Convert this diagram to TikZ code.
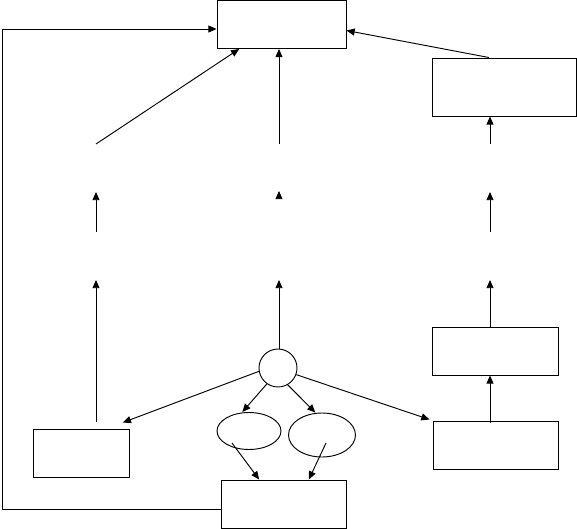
\documentclass[tikz,border=0pt]{standalone}
\usetikzlibrary{arrows.meta,shapes.geometric}
\begin{document}
\begin{tikzpicture}[x=0.03cm, y=-0.03cm, line width=0.8pt, >={Triangle[length=7pt,width=6pt]},
        box/.style={draw, rectangle, inner sep=0pt},
        blob/.style={draw, ellipse, inner sep=0pt}]
    \useasboundingbox (0,0) rectangle (577,529);
    % boxes
    \node[box, minimum width=3.87cm, minimum height=1.44cm] (top) at (281.5, 24.5) {};
    \node[box, minimum width=4.32cm, minimum height=1.74cm] (outbox) at (504, 87) {};
    \node[box, minimum width=3.78cm, minimum height=1.44cm] (midbox) at (495, 351) {};
    \node[box, minimum width=3.75cm, minimum height=1.44cm] (rbox) at (495.5, 445) {};
    \node[box, minimum width=2.88cm, minimum height=1.44cm] (lbox) at (81, 453) {};
    \node[box, minimum width=3.75cm, minimum height=1.44cm] (bot) at (283.5, 504) {};
    \node[draw, circle, minimum size=1.14cm, inner sep=0pt] (hub) at (278, 368) {};
    \node[blob, minimum width=1.92cm, minimum height=1.11cm] (el1) at (249, 431) {};
    \node[blob, minimum width=2.01cm, minimum height=1.32cm] (el2) at (322, 435) {};
    % free ends
    \coordinate (a1) at (96, 144);
    \coordinate (a2) at (279, 144);
    \coordinate (a3) at (490, 144);
    \coordinate (b1) at (96, 232);
    \coordinate (b1t) at (96, 192);
    \coordinate (b2) at (279, 201);
    \coordinate (b2t) at (279, 191);
    \coordinate (b3) at (490, 232);
    \coordinate (b3t) at (490, 192);
    \coordinate (c1) at (96, 280);
    \coordinate (c1s) at (96, 422);
    \coordinate (c2) at (279, 280);
    \coordinate (c3) at (490, 280);
    \coordinate (fb1) at (2, 509);
    \coordinate (fb2) at (2, 29);
    % upper arrows
    \draw[->] (a1) -- ([xshift=-1.27cm]top.south);
    \draw[->] (a2) -- (a2 |- top.south);
    \draw[->] (a3) -- (a3 |- outbox.south);
    \draw[->] ([xshift=-0.45cm]outbox.north) -- ([yshift=-0.18cm]top.east);
    \draw[->] (b1) -- (b1t);
    \draw[->, shorten <=2.5pt] (b2) -- (b2t);
    \draw[->] (b3) -- (b3t);
    \draw[->] (c1s) -- (c1);
    \draw[->] (hub.north -| c2) -- (c2);
    \draw[->] (c3 |- midbox.north) -- (c3);
    \draw[->] ([yshift=-0.06cm]c3 |- rbox.north) -- (c3 |- midbox.south);
    % from the hub
    \draw[->] (hub.190) -- ([shift={(-0.2cm,0.18cm)}]lbox.north east);
    \draw[->] (hub.235) -- ([xshift=-0.2cm]el1.north);
    \draw[->] (hub.300) -- ([xshift=-0.2cm]el2.north);
    \draw[->] (hub.340) -- ([shift={(-0.09cm,0.03cm)}]rbox.north west);
    \draw[->] ([shift={(-0.51cm,-0.36cm)}]el1.center) -- ([xshift=-0.73cm]bot.north);
    \draw[->] ([shift={(0.12cm,-0.24cm)}]el2.center) -- ([xshift=0.76cm]bot.north);
    % feedback
    \draw[->] (bot.west |- fb1) -- (fb1) -- (fb2) -- (top.west |- fb2);
\end{tikzpicture}
\end{document}
